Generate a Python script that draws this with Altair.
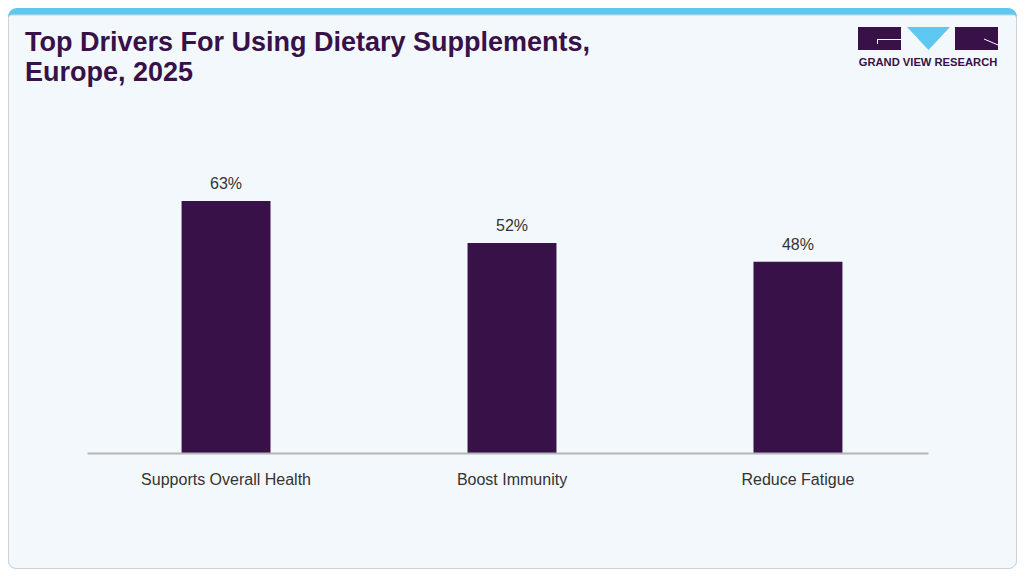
import altair as alt
import pandas as pd

categories = ["Supports Overall Health", "Boost Immunity", "Reduce Fatigue"]
values = [63, 52.5, 47.8]
labels = ["63%", "52%", "48%"]

title_lines = ["Top Drivers For Using Dietary Supplements,", "Europe, 2025"]
logo_text = "GRAND VIEW RESEARCH"

PURPLE = "#371148"
CYAN = "#5ec8f2"
CARD = "#f3f8fc"

df = pd.DataFrame({"cat": categories, "val": values, "lab": labels})
one = pd.DataFrame({"k": [0]})

# plot origin corresponds to reference pixel (87, 173)
def rx(v):
    return v - 87

def ry(v):
    return v - 173

card_outer = alt.Chart(one).mark_rect(
    fill=CYAN, cornerRadius=9
).encode(x=alt.value(-79), x2=alt.value(930), y=alt.value(-165), y2=alt.value(396))

card_inner = alt.Chart(one).mark_rect(
    fill=CARD, stroke="#cfd3d6", strokeWidth=1,
    cornerRadiusBottomLeft=8, cornerRadiusBottomRight=8,
    cornerRadiusTopLeft=3, cornerRadiusTopRight=3,
).encode(x=alt.value(-78.5), x2=alt.value(929.5), y=alt.value(-158), y2=alt.value(395.5))

title1 = alt.Chart(one).mark_text(
    align="left", baseline="alphabetic", font="Liberation Sans",
    fontWeight="bold", fontSize=27, color=PURPLE
).encode(x=alt.value(rx(25)), y=alt.value(ry(50.5)), text=alt.value(title_lines[0]))

title2 = alt.Chart(one).mark_text(
    align="left", baseline="alphabetic", font="Liberation Sans",
    fontWeight="bold", fontSize=27, color=PURPLE
).encode(x=alt.value(rx(25)), y=alt.value(ry(81)), text=alt.value(title_lines[1]))

logo_left = alt.Chart(one).mark_rect(fill=PURPLE).encode(
    x=alt.value(rx(858)), x2=alt.value(rx(901)), y=alt.value(ry(27)), y2=alt.value(ry(50)))
logo_right = alt.Chart(one).mark_rect(fill=PURPLE).encode(
    x=alt.value(rx(955)), x2=alt.value(rx(998)), y=alt.value(ry(27)), y2=alt.value(ry(50)))
logo_tri = alt.Chart(one).mark_point(
    shape="M-1,-0.535L1,-0.535L0,0.535Z", filled=True, fill=CYAN, opacity=1,
    size=1849, strokeWidth=0
).encode(x=alt.value(rx(928.5)), y=alt.value(ry(38.5)))
logo_line1 = alt.Chart(one).mark_rule(color="white", strokeWidth=1).encode(
    x=alt.value(rx(877)), x2=alt.value(rx(901)), y=alt.value(ry(39.5)))
logo_line2 = alt.Chart(one).mark_rule(color="white", strokeWidth=1).encode(
    x=alt.value(rx(877.5)), y=alt.value(ry(39.5)), y2=alt.value(ry(44)))
logo_line3 = alt.Chart(one).mark_rule(color="white", strokeWidth=1).encode(
    x=alt.value(rx(984)), x2=alt.value(rx(998)), y=alt.value(ry(39)), y2=alt.value(ry(45)))
logo_label = alt.Chart(one).mark_text(
    align="center", baseline="middle", font="Liberation Sans", fontWeight="bold",
    fontSize=11.2, color=PURPLE
).encode(x=alt.value(rx(928)), y=alt.value(ry(62.5)), text=alt.value(logo_text))

xenc = alt.X(
    "cat:N", sort=categories, title=None,
    scale=alt.Scale(paddingInner=0.689, paddingOuter=0.315, align=0.525),
    axis=alt.Axis(
        labelAngle=0, ticks=False, domainColor="#b5b5b5", domainWidth=2,
        labelFont="Liberation Sans", labelFontSize=16, labelColor="#333333",
        labelPadding=18, grid=False, zindex=1,
    ),
)
yenc = alt.Y("val:Q", scale=alt.Scale(domain=[0, 70]), axis=None)

bars = alt.Chart(df).mark_bar(color=PURPLE).encode(x=xenc, y=yenc)
texts = alt.Chart(df).mark_text(
    baseline="alphabetic", dy=-12, font="Liberation Sans", fontSize=16, color="#333333"
).encode(x=alt.X("cat:N", sort=categories), y=yenc, text="lab:N")

chart = alt.layer(
    card_outer, card_inner, title1, title2,
    logo_left, logo_right, logo_tri, logo_line1, logo_line2, logo_line3, logo_label,
    bars, texts,
).properties(
    width=841, height=280,
    padding={"left": 79, "right": 89, "top": 165, "bottom": 116},
    autosize=alt.AutoSizeParams(type="none"),
    background="white",
).configure_view(stroke=None)

chart.save("out.html", embed_options={"renderer": "svg", "actions": False})
